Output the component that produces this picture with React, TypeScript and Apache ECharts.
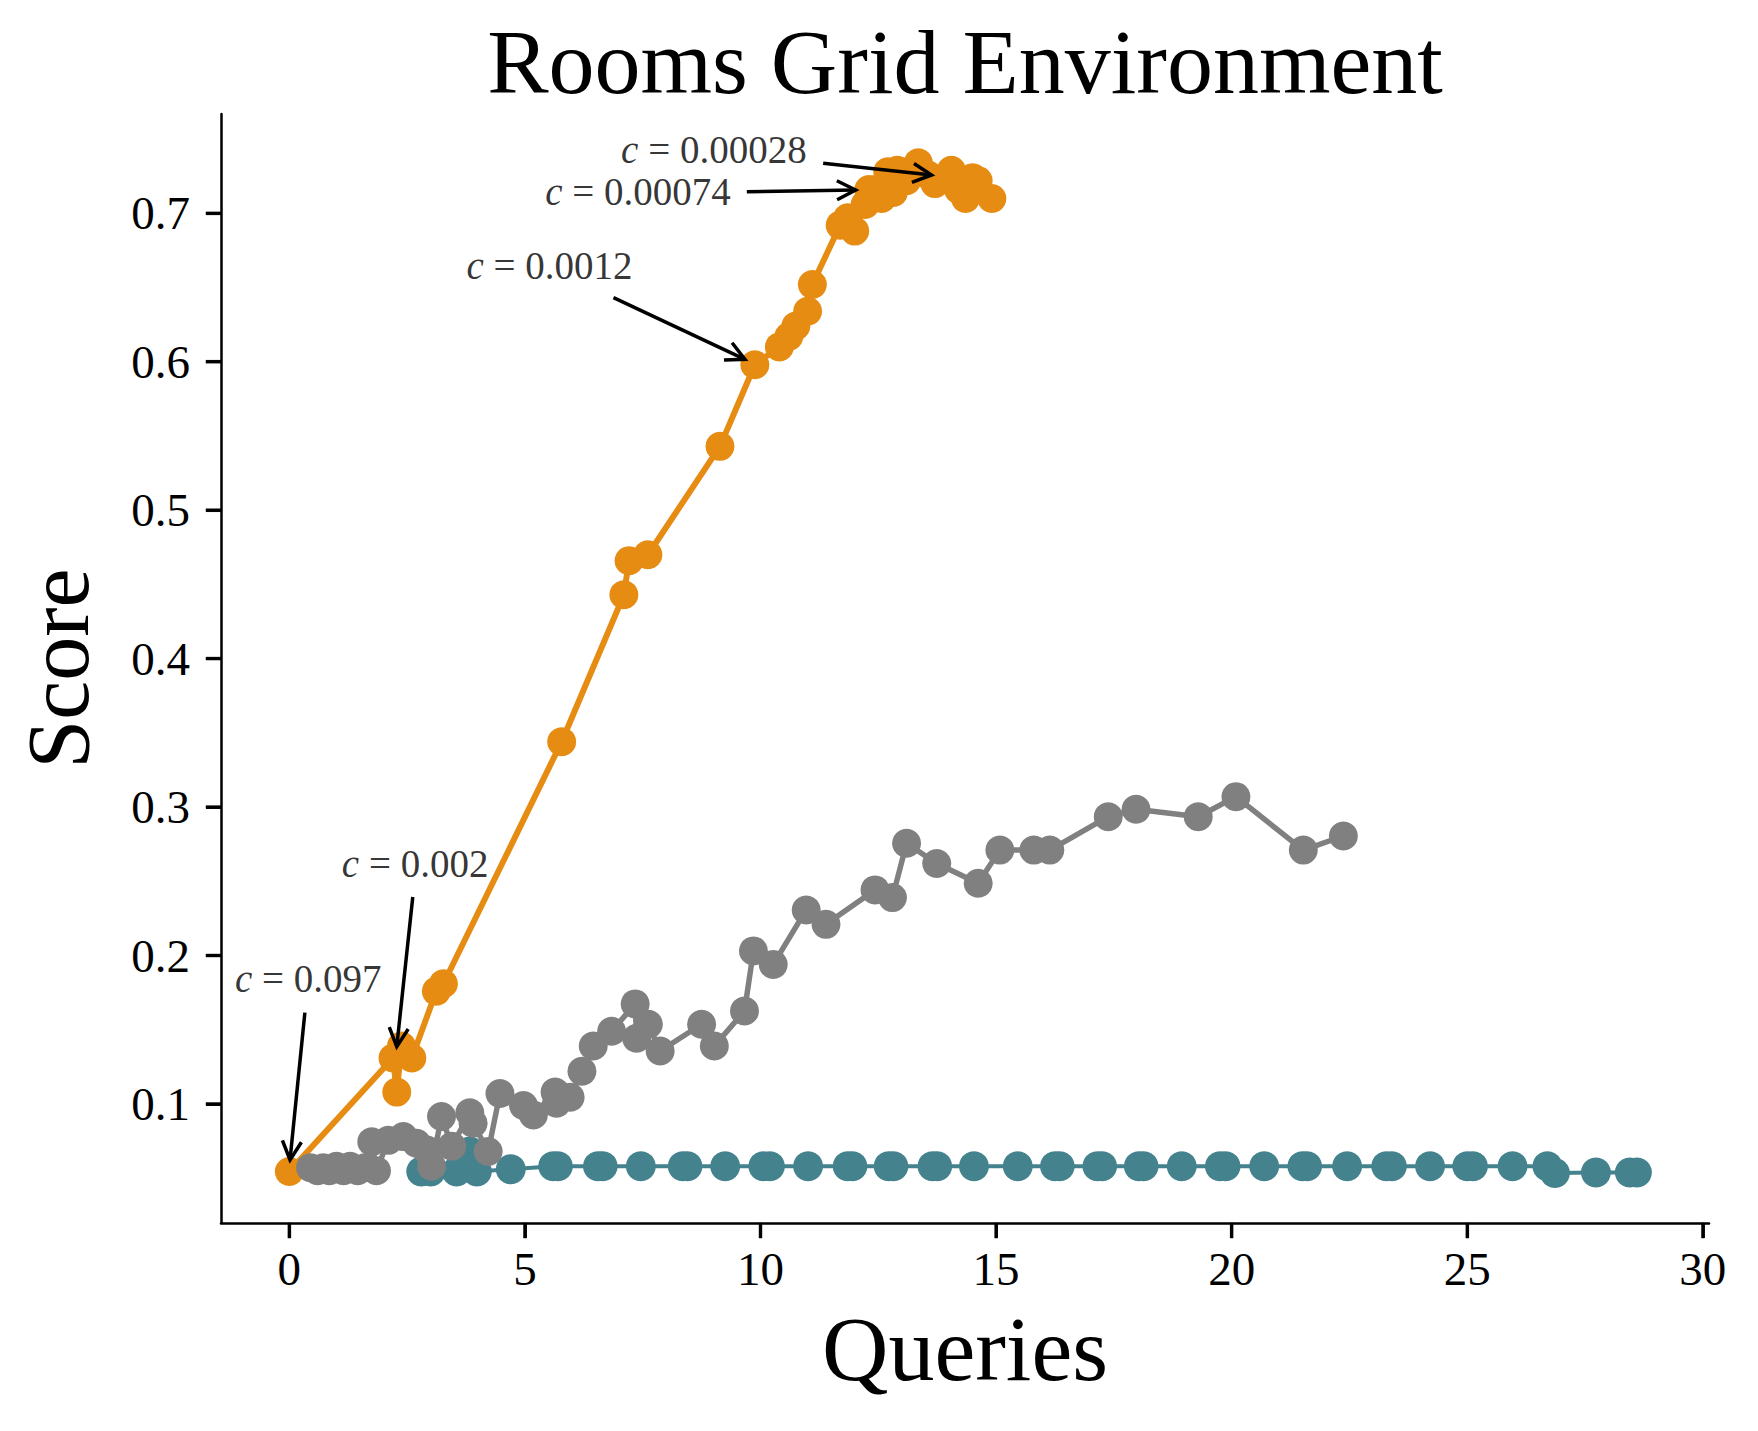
import React, { useEffect, useRef } from "react";
import * as echarts from "echarts";

// ---- data ----
const orangeX = [0, 2.2, 2.28, 2.38, 2.6, 3.12, 3.27, 5.78, 7.1, 7.21, 7.61, 9.14, 9.88, 10.4, 10.6, 10.75, 11.0, 11.1, 11.69, 11.85, 12.0, 12.22, 12.3, 12.45, 12.57, 12.7, 12.82, 12.9, 13.0, 13.1, 13.35, 13.55, 13.7, 14.05, 14.2, 14.35, 14.5, 14.62, 14.91];
const orangeY = [0.0545, 0.131, 0.108, 0.139, 0.131, 0.176, 0.181, 0.344, 0.443, 0.466, 0.47, 0.543, 0.598, 0.61, 0.617, 0.624, 0.634, 0.652, 0.692, 0.697, 0.688, 0.706, 0.716, 0.716, 0.71, 0.728, 0.714, 0.729, 0.728, 0.722, 0.734, 0.726, 0.72, 0.729, 0.716, 0.71, 0.724, 0.722, 0.71];

const greyX = [0.45, 0.6, 0.72, 0.85, 1.0, 1.15, 1.29, 1.45, 1.6, 1.75, 1.85, 2.1, 2.42, 2.7, 2.92, 3.02, 3.23, 3.45, 3.83, 3.9, 4.22, 4.47, 4.97, 5.18, 5.64, 5.67, 5.96, 6.21, 6.45, 6.84, 7.34, 7.37, 7.62, 7.87, 8.75, 9.02, 9.66, 9.85, 10.27, 10.97, 11.39, 12.43, 12.8, 13.1, 13.74, 14.62, 15.08, 15.8, 16.14, 17.38, 17.97, 19.29, 20.09, 21.52, 22.37];
const greyY = [0.057, 0.055, 0.057, 0.055, 0.058, 0.055, 0.058, 0.055, 0.057, 0.0745, 0.055, 0.0755, 0.078, 0.0735, 0.069, 0.058, 0.0915, 0.0715, 0.094, 0.087, 0.068, 0.107, 0.099, 0.0926, 0.108, 0.1005, 0.1045, 0.122, 0.139, 0.149, 0.1674, 0.1443, 0.1537, 0.1357, 0.1537, 0.139, 0.1626, 0.2031, 0.194, 0.2307, 0.221, 0.2442, 0.239, 0.2756, 0.262, 0.2487, 0.271, 0.271, 0.271, 0.2935, 0.2985, 0.2935, 0.307, 0.271, 0.2805];

const tealX = [2.8, 3.0, 3.55, 3.83, 3.98, 4.7, 5.6, 5.7, 6.55, 6.65, 7.46, 8.35, 8.45, 9.25, 10.06, 10.2, 11.01, 11.85, 11.95, 12.72, 12.82, 13.65, 13.75, 14.53, 15.46, 16.25, 16.35, 17.15, 17.25, 18.03, 18.13, 18.94, 19.75, 19.87, 20.69, 21.5, 21.6, 22.45, 23.28, 23.4, 24.21, 25.0, 25.12, 25.96, 26.7, 26.86, 27.73, 28.45, 28.6];
const tealY = [0.0545, 0.0545, 0.0545, 0.068, 0.0545, 0.056, 0.058, 0.058, 0.058, 0.058, 0.058, 0.058, 0.058, 0.058, 0.058, 0.058, 0.058, 0.058, 0.058, 0.058, 0.058, 0.058, 0.058, 0.058, 0.058, 0.058, 0.058, 0.058, 0.058, 0.058, 0.058, 0.058, 0.058, 0.058, 0.058, 0.058, 0.058, 0.058, 0.058, 0.058, 0.058, 0.058, 0.058, 0.058, 0.058, 0.0535, 0.0538, 0.0538, 0.0538];

const xTicks = [0, 5, 10, 15, 20, 25, 30];
const yTicks = [0.1, 0.2, 0.3, 0.4, 0.5, 0.6, 0.7];
const X_MIN = -1.45;
const X_MAX = 30.13;
const Y_MIN = 0.0198;
const Y_MAX = 0.7669;

// annotations (data coordinates)
const annotValues = ["0.097", "0.002", "0.0012", "0.00074", "0.00028"];
const annotTextX = [0.4, 2.67, 5.52, 7.4, 9.01];
const annotTextY = [0.1845, 0.2618, 0.6647, 0.7146, 0.7429];
const arrowTailX = [0.33, 2.62, 6.88, 9.71, 11.33];
const arrowTailY = [0.1615, 0.2394, 0.6432, 0.7146, 0.7337];
const arrowTipX = [0.015, 2.28, 9.67, 12.02, 13.63];
const arrowTipY = [0.0623, 0.1386, 0.6016, 0.7157, 0.7258];

const FONT = "'Liberation Serif', 'Times New Roman', serif";
const ORANGE = "#E68C12";
const GREY = "#808080";
const TEAL = "#44828E";

function pairs(xs: number[], ys: number[]) {
  return xs.map((x, i) => [x, ys[i]]);
}

export default function App() {
  const ref = useRef<HTMLDivElement>(null);
  useEffect(() => {
    document.body.style.margin = "0";
    if (!ref.current) return;
    const chart = echarts.init(ref.current, undefined, { renderer: "svg" });
    const axisLine = { show: true, onZero: false, lineStyle: { color: "#000", width: 2.5 } };
    const tickStyle = { show: true, inside: false, length: 15, lineStyle: { color: "#000", width: 2.8 } };
    chart.setOption({
      animation: false,
      backgroundColor: "#fff",
      grid: { left: 221, right: 49, top: 114, bottom: 208, containLabel: false },
      graphic: [
        {
          type: "text",
          x: 965,
          y: 62,
          style: {
            text: "Rooms Grid Environment",
            fontFamily: FONT,
            fontSize: 92,
            fill: "#000",
            align: "center",
            verticalAlign: "middle",
          },
        },
      ],
      xAxis: {
        type: "value",
        min: X_MIN,
        max: X_MAX,
        axisLine,
        splitLine: { show: false },
        axisTick: { ...tickStyle, customValues: xTicks },
        axisLabel: {
          customValues: xTicks,
          fontFamily: FONT,
          fontSize: 47,
          color: "#000",
          margin: 22,
        },
        name: "Queries",
        nameLocation: "middle",
        nameGap: 80,
        nameTextStyle: { fontFamily: FONT, fontSize: 92, color: "#000" },
      },
      yAxis: {
        type: "value",
        min: Y_MIN,
        max: Y_MAX,
        axisLine,
        splitLine: { show: false },
        axisTick: { ...tickStyle, customValues: yTicks },
        axisLabel: {
          customValues: yTicks,
          fontFamily: FONT,
          fontSize: 47,
          color: "#000",
          margin: 31,
          formatter: (v: number) => v.toFixed(1),
        },
        name: "Score",
        nameLocation: "middle",
        nameGap: 119,
        nameTextStyle: { fontFamily: FONT, fontSize: 88, color: "#000" },
      },
      series: [
        {
          type: "line",
          data: pairs(orangeX, orangeY),
          symbol: "circle",
          symbolSize: 29,
          showAllSymbol: true,
          lineStyle: { color: ORANGE, width: 6 },
          itemStyle: { color: ORANGE },
          z: 2,
        },
        {
          type: "line",
          data: pairs(tealX, tealY),
          symbol: "circle",
          symbolSize: 30,
          showAllSymbol: true,
          lineStyle: { color: TEAL, width: 4 },
          itemStyle: { color: TEAL },
          z: 3,
        },
        {
          type: "line",
          data: pairs(greyX, greyY),
          symbol: "circle",
          symbolSize: 29,
          showAllSymbol: true,
          lineStyle: { color: GREY, width: 5.5 },
          itemStyle: { color: GREY },
          z: 4,
        },
        {
          // annotation arrows; the first item's group also carries the tick marks,
          // each placed through api.coord on the axes' scales
          type: "custom",
          z: 6,
          silent: true,
          clip: false,
          data: arrowTailX.map((x, i) => [x, arrowTailY[i], arrowTipX[i], arrowTipY[i]]),
          renderItem: (params: any, api: any) => {
            const p1 = api.coord([api.value(0), api.value(1)]);
            const p2 = api.coord([api.value(2), api.value(3)]);
            const ang = Math.atan2(p2[1] - p1[1], p2[0] - p1[0]);
            const L = 21;
            const a = (27 * Math.PI) / 180;
            const h1 = [p2[0] - L * Math.cos(ang - a), p2[1] - L * Math.sin(ang - a)];
            const h2 = [p2[0] - L * Math.cos(ang + a), p2[1] - L * Math.sin(ang + a)];
            const children: any[] = [
              {
                type: "line",
                shape: { x1: p1[0], y1: p1[1], x2: p2[0], y2: p2[1] },
                style: { stroke: "#000", lineWidth: 3.5 },
              },
              {
                type: "polyline",
                shape: { points: [h1, p2, h2] },
                style: { stroke: "#000", lineWidth: 3.5, fill: "none" },
              },
            ];
            if (params.dataIndex === 0) {
              xTicks.forEach((v) => {
                const q = api.coord([v, Y_MIN]);
                children.push({
                  type: "polygon",
                  shape: {
                    points: [
                      [q[0] - 1.4, q[1]],
                      [q[0] + 1.4, q[1]],
                      [q[0] + 1.4, q[1] + 15],
                      [q[0] - 1.4, q[1] + 15],
                    ],
                  },
                  style: { fill: "#000", stroke: "#000", lineWidth: 0.5 },
                });
              });
              yTicks.forEach((v) => {
                const q = api.coord([X_MIN, v]);
                children.push({
                  type: "polygon",
                  shape: {
                    points: [
                      [q[0], q[1] - 1.4],
                      [q[0], q[1] + 1.4],
                      [q[0] - 15, q[1] + 1.4],
                      [q[0] - 15, q[1] - 1.4],
                    ],
                  },
                  style: { fill: "#000", stroke: "#000", lineWidth: 0.5 },
                });
              });
            }
            return { type: "group", children };
          },
        },
        {
          type: "scatter",
          z: 7,
          silent: true,
          symbolSize: 1,
          itemStyle: { color: "rgba(0,0,0,0)" },
          data: annotTextX.map((x, i) => ({ value: [x, annotTextY[i]], name: annotValues[i] })),
          label: {
            show: true,
            position: "inside",
            formatter: (p: any) => `{i|c} = ${p.name}`,
            fontFamily: FONT,
            fontSize: 39,
            color: "#000",
            rich: {
              i: { fontFamily: FONT, fontSize: 39, fontStyle: "italic", color: "#000" },
            },
          },
        },
      ],
    });
    return () => chart.dispose();
  }, []);
  return <div ref={ref} style={{ width: 1758, height: 1431 }} />;
}
